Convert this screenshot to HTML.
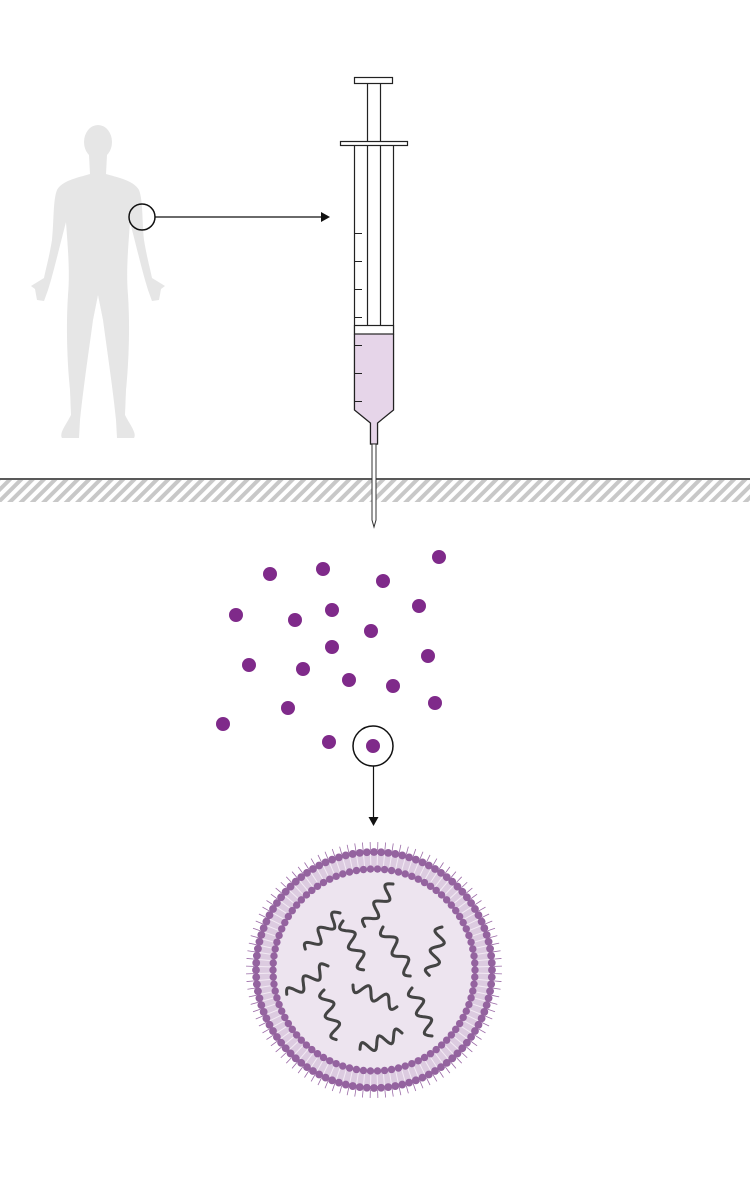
<!DOCTYPE html>
<html><head><meta charset="utf-8"><style>html,body{margin:0;padding:0;background:#fff}svg{display:block}</style></head>
<body>
<svg id="s" width="750" height="1188" viewBox="0 0 750 1188" xmlns="http://www.w3.org/2000/svg">
<defs>
<pattern id="h" width="8" height="8" patternUnits="userSpaceOnUse" patternTransform="rotate(45)">
<rect width="8" height="8" fill="#fff"/><rect width="4" height="8" fill="#c8c8c8"/>
</pattern>
</defs>
<g fill="#e6e6e6">
<ellipse cx="98" cy="142" rx="14" ry="17"/>
<path id="half" d="M99 155 L89 155 L90 174 C76 178 62 181 57 190 C53 200 54 220 52 240 C49 258 46 268 44 278 L31 286 L35 289 L37 300 L44 301 L48 290 L51 280 C56 262 60 245 66 222 C68 250 70 272 68 295 C66 325 67 360 70 390 L71 415 C66 425 59 433 62 438 L79 438 L80 420 C83 390 89 350 93 320 L99 290 Z"/>
<use href="#half" transform="translate(196,0) scale(-1,1)"/>
</g>
<circle cx="142" cy="217" r="13" fill="none" stroke="#111" stroke-width="1.5"/>
<line x1="155" y1="217" x2="322" y2="217" stroke="#111" stroke-width="1.2"/>
<polygon points="321,212 330,217 321,222" fill="#111"/>
<g stroke="#222" stroke-width="1.2">
<rect x="354.5" y="77.5" width="38" height="6" fill="#fff"/>
<line x1="367.5" y1="84" x2="367.5" y2="327"/><line x1="380.5" y1="84" x2="380.5" y2="327"/>
<path d="M354.5 145 L354.5 410 L370.5 423 L370.5 444 L377.5 444 L377.5 423 L393.5 410 L393.5 145" fill="#fff"/>
<path d="M355 334 L393 334 L393 410 L377.5 423 L377.5 444 L370.5 444 L370.5 423 L355 410 Z" fill="#e6d5e9" stroke="none"/>
<path d="M354.5 334 L354.5 410 L370.5 423 L370.5 444 L377.5 444 L377.5 423 L393.5 410 L393.5 334" fill="none"/>
<rect x="354.5" y="325.5" width="39" height="8.5" fill="#fff"/>
<rect x="340.5" y="141.5" width="67" height="4" fill="#fff"/>
<line x1="367.5" y1="146" x2="367.5" y2="326"/><line x1="380.5" y1="146" x2="380.5" y2="326"/>
<g stroke-width="1"><line x1="355" y1="233.5" x2="362" y2="233.5"/><line x1="355" y1="261.5" x2="362" y2="261.5"/><line x1="355" y1="289.5" x2="362" y2="289.5"/><line x1="355" y1="317.5" x2="362" y2="317.5"/><line x1="355" y1="345.5" x2="362" y2="345.5"/><line x1="355" y1="373.5" x2="362" y2="373.5"/><line x1="355" y1="401.5" x2="362" y2="401.5"/></g>
</g>
<rect x="0" y="480" width="750" height="22" fill="url(#h)"/>
<line x1="0" y1="479" x2="750" y2="479" stroke="#222" stroke-width="1.5"/>
<path d="M372 444 L372 520 L374 527 L376 520 L376 444 Z" fill="#fff" stroke="#333" stroke-width="1"/>
<g id="dots" fill="#7f2a8a"></g>
<circle cx="373" cy="746" r="20" fill="none" stroke="#111" stroke-width="1.5"/>
<line x1="373.5" y1="766" x2="373.5" y2="818" stroke="#111" stroke-width="1.2"/>
<polygon points="368.5,817 373.5,826 378.5,817" fill="#111"/>
<g id="ves"></g>
</svg>
<script>
var NS="http://www.w3.org/2000/svg";
function el(p,t,a){var e=document.createElementNS(NS,t);for(var k in a)e.setAttribute(k,a[k]);p.appendChild(e);return e;}
var d=document.getElementById("dots");
[[270,574],[323,569],[383,581],[439,557],[236,615],[295,620],[332,610],[371,631],[419,606],[249,665],[303,669],[332,647],[349,680],[393,686],[428,656],[223,724],[288,708],[435,703],[329,742],[373,746]].forEach(function(p){el(d,"circle",{cx:p[0],cy:p[1],r:7});});
var v=document.getElementById("ves"),cx=374,cy=970;
el(v,"circle",{cx:cx,cy:cy,r:119,fill:"#dccbe0"});
var N=104;
for(var i=0;i<N;i++){var a=2*Math.PI*(i+0.5)/N,c=Math.cos(a),s=Math.sin(a);
el(v,"line",{x1:cx+c*120,y1:cy+s*120,x2:cx+c*128,y2:cy+s*128,stroke:"#9a6aa6","stroke-width":0.8});
el(v,"line",{x1:cx+c*103,y1:cy+s*103,x2:cx+c*116,y2:cy+s*116,stroke:"#f3eaf4","stroke-width":1});}
el(v,"circle",{cx:cx,cy:cy,r:99,fill:"#ede4ef"});
for(var i=0;i<N;i++){var a=2*Math.PI*i/N;el(v,"circle",{cx:cx+Math.cos(a)*118,cy:cy+Math.sin(a)*118,r:3.9,fill:"#94639f"});}
for(var i=0;i<90;i++){var a=2*Math.PI*i/90;el(v,"circle",{cx:cx+Math.cos(a)*101,cy:cy+Math.sin(a)*101,r:3.7,fill:"#94639f"});}
[[393,884,365,927],[340,913,306,951],[343,921,365,970],[383,927,412,976],[442,927,430,976],[328,966,287,996],[324,990,338,1040],[353,985,398,1006],[412,988,432,1036],[402,1033,360,1050]].forEach(function(q){
var dx=q[2]-q[0],dy=q[3]-q[1],L=Math.hypot(dx,dy),ux=dx/L,uy=dy/L,nx=-uy,ny=ux,pts=[];
for(var t=0;t<=L;t+=1){var w=6*Math.sin(t/L*2*Math.PI*2.5);pts.push((q[0]+ux*t+nx*w).toFixed(1)+","+(q[1]+uy*t+ny*w).toFixed(1));}
el(v,"polyline",{points:pts.join(" "),fill:"none",stroke:"#444","stroke-width":3,"stroke-linecap":"round"});});
</script>
</body></html>
